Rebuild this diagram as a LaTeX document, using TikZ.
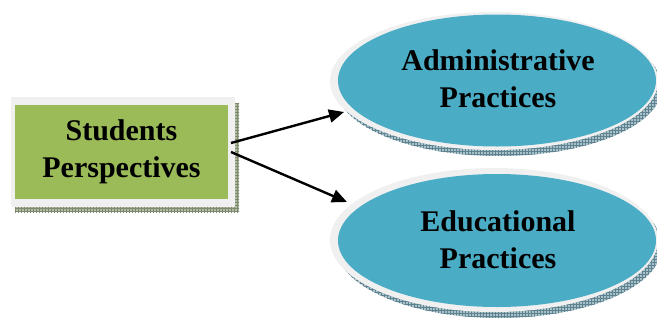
\documentclass[tikz,border=0pt]{standalone}
\usepackage{fontspec}
\setmainfont{Liberation Serif}
\usetikzlibrary{arrows.meta,patterns,shapes.geometric}
\definecolor{boxgreen}{HTML}{9BBB59}
\definecolor{ellblue}{HTML}{4BACC6}
\definecolor{rimgrey}{HTML}{F0F0F0}
\definecolor{shadgreen}{HTML}{B4BCA4}
\definecolor{shadgreenline}{HTML}{7E8A70}
\definecolor{shadblue}{HTML}{A9C2CA}
\definecolor{shadblueline}{HTML}{5E8290}
\tikzset{
  lbl/.style={font=\fontsize{30}{37}\selectfont\bfseries, align=center, text=black},
  arr/.style={line width=2.4pt, -{Triangle[length=15pt,width=13pt]}},
}
\begin{document}
\begin{tikzpicture}[x=1pt,y=-1pt]
\useasboundingbox (0,0) rectangle (657,322);
\clip (0,0) rectangle (657,322);
% box
\fill[shadgreen] (15,103) rectangle (239,212);
\fill[pattern=grid, pattern color=shadgreenline] (15,103) rectangle (239,212);
\fill[rimgrey] (11,97) rectangle (235,207);
\node[fill=boxgreen, minimum width=213pt, minimum height=94pt, inner sep=0pt, lbl] (sp) at (121.5,152) {Students\\Perspectives};
% top ellipse
\fill[shadblue] (499,87) ellipse [x radius=163, y radius=69];
\fill[pattern=grid, pattern color=shadblueline] (499,87) ellipse [x radius=163, y radius=69];
\fill[rimgrey] (494,81) ellipse [x radius=164, y radius=69];
\node[ellipse, fill=ellblue, minimum width=318pt, minimum height=132pt, inner sep=0pt] (ap) at (497,80.5) {};
\node[lbl] (apt) at (498,79) {Administrative\\Practices};
% bottom ellipse
\fill[shadblue] (499,246) ellipse [x radius=163, y radius=72];
\fill[pattern=grid, pattern color=shadblueline] (499,246) ellipse [x radius=163, y radius=72];
\fill[rimgrey] (494,240) ellipse [x radius=164, y radius=72];
\node[ellipse, fill=ellblue, minimum width=318pt, minimum height=133pt, inner sep=0pt] (ep) at (497,240.5) {};
\node[lbl] (ept) at (498,240) {Educational\\Practices};
% arrows
\coordinate (s1) at (231,143);
\coordinate (s2) at (231,152);
\coordinate (t1) at (344,112);
\coordinate (t2) at (347,202);
\draw[arr] (s1) -- (t1);
\draw[arr] (s2) -- (t2);
\end{tikzpicture}
\end{document}
